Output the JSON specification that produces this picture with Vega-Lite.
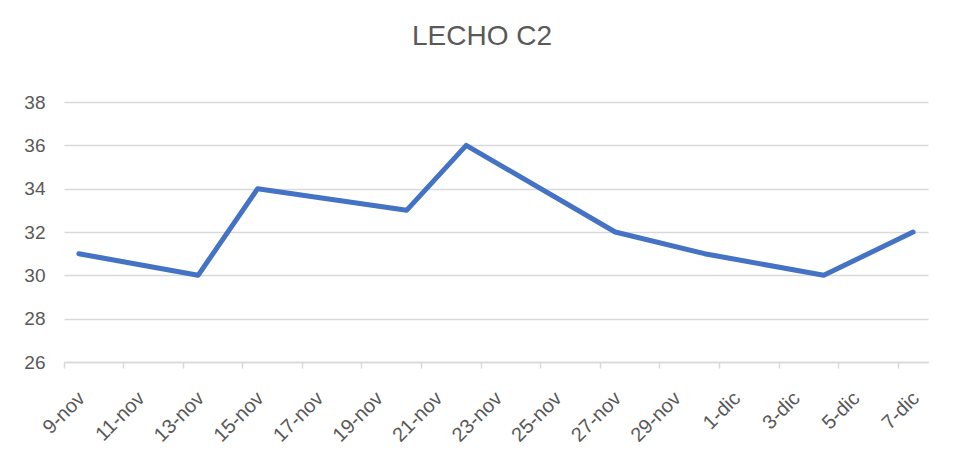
{
  "$schema": "https://vega.github.io/schema/vega-lite/v6.json",
  "width": 864,
  "height": 260,
  "autosize": {"type": "none"},
  "padding": {"left": 64, "top": 102, "right": 27, "bottom": 93},
  "background": "white",
  "title": {
    "text": "LECHO C2",
    "font": "Liberation Sans",
    "fontSize": 28,
    "fontWeight": "normal",
    "color": "#595959",
    "anchor": "middle",
    "dx": -14,
    "offset": 42
  },
  "config": {"view": {"stroke": null}},
  "data": {
    "values": [
      {"fecha": "9-nov", "valor": 31},
      {"fecha": "13-nov", "valor": 30},
      {"fecha": "15-nov", "valor": 34},
      {"fecha": "20-nov", "valor": 33},
      {"fecha": "22-nov", "valor": 36},
      {"fecha": "27-nov", "valor": 32},
      {"fecha": "30-nov", "valor": 31},
      {"fecha": "4-dic", "valor": 30},
      {"fecha": "7-dic", "valor": 32}
    ]
  },
  "mark": {"type": "line", "color": "#4472C4", "strokeWidth": 5, "strokeCap": "round", "strokeJoin": "round"},
  "encoding": {
    "x": {
      "field": "fecha",
      "type": "ordinal",
      "bandPosition": 0.5,
      "scale": {
        "type": "band",
        "paddingInner": 0,
        "paddingOuter": 0,
        "domain": ["9-nov","10-nov","11-nov","12-nov","13-nov","14-nov","15-nov","16-nov","17-nov","18-nov","19-nov","20-nov","21-nov","22-nov","23-nov","24-nov","25-nov","26-nov","27-nov","28-nov","29-nov","30-nov","1-dic","2-dic","3-dic","4-dic","5-dic","6-dic","7-dic"]
      },
      "axis": {
        "title": null,
        "values": ["9-nov","11-nov","13-nov","15-nov","17-nov","19-nov","21-nov","23-nov","25-nov","27-nov","29-nov","1-dic","3-dic","5-dic","7-dic"],
        "bandPosition": 0,
        "domainColor": "#d9d9d9",
        "domainWidth": 1.5,
        "tickColor": "#d9d9d9",
        "tickWidth": 1.5,
        "tickSize": 6,
        "labelAngle": -45,
        "labelAlign": "right",
        "labelBaseline": "middle",
        "labelPadding": 27,
        "labelOffset": 3,
        "labelFont": "Liberation Sans",
        "labelFontSize": 20,
        "labelColor": "#595959",
        "grid": false
      }
    },
    "y": {
      "field": "valor",
      "type": "quantitative",
      "scale": {"domain": [26, 38], "nice": false, "zero": false},
      "axis": {
        "title": null,
        "values": [26, 28, 30, 32, 34, 36, 38],
        "domain": false,
        "ticks": false,
        "labelPadding": 19,
        "labelFont": "Liberation Sans",
        "labelFontSize": 19,
        "labelColor": "#595959",
        "gridColor": "#d9d9d9",
        "gridWidth": 1.5
      }
    }
  }
}
